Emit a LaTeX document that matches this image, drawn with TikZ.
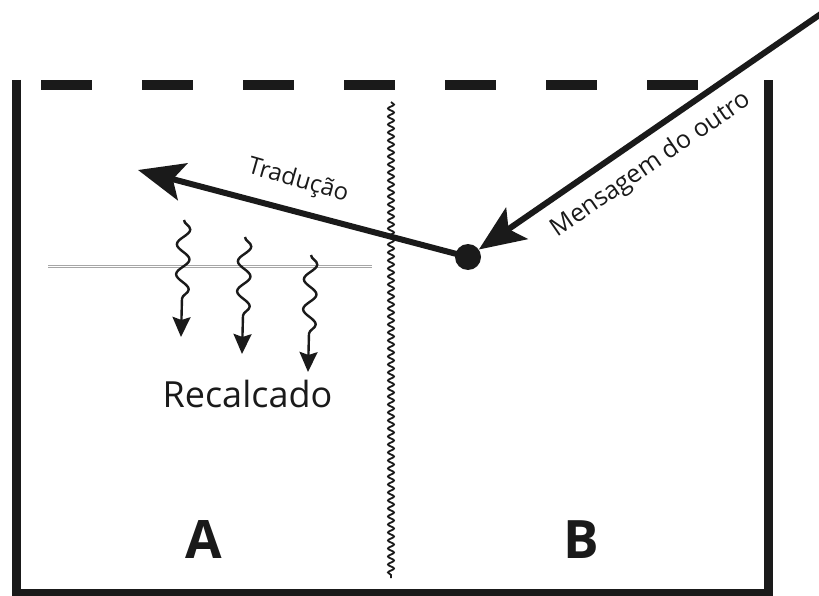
\documentclass[tikz,border=0pt]{standalone}
\usepackage{fontspec}
\setmainfont{Open Sans}
\usetikzlibrary{arrows.meta,decorations.pathmorphing}
\definecolor{ink}{HTML}{1A1A1A}
\begin{document}
\begin{tikzpicture}[x=1pt,y=-1pt,
  wall/.style={draw=ink,line width=9pt,line join=miter},
  lid/.style={draw=ink,line width=10pt,dash pattern=on 51pt off 50pt},
  bigarrow/.style={draw=ink,line width=6pt,-{Stealth[length=46pt,width=38pt,inset=10pt]}},
  wavyarrow/.style={draw=ink,line width=2.4pt,decorate,
    decoration={snake,amplitude=6.5pt,segment length=30pt,post length=34pt},
    -{Stealth[length=20pt,width=18pt,inset=3pt]}},
  barrier/.style={draw=ink,line width=1.8pt,decorate,
    decoration={snake,amplitude=3pt,segment length=8pt}},
  surface/.style={draw=gray!70,double=white,double distance=1.6pt,line width=0.9pt},
  dotnode/.style={circle,fill=ink,minimum size=26pt,inner sep=0pt},
  lbl/.style={text=ink,inner sep=0pt}]
\useasboundingbox (0,0) rectangle (819,596);
% box
\coordinate (tl) at (16.5,80);
\coordinate (bl) at (16.5,593.5);
\coordinate (br) at (768.5,593.5);
\coordinate (tr) at (768.5,80);
\draw[wall] (tl) -- (bl) -- (br) -- (tr);
% dashed lid
\coordinate (lidl) at (41,85);
\coordinate (lidr) at (698,85);
\draw[lid] (lidl) -- (lidr);
% barrier
\coordinate (bart) at (391,102);
\coordinate (barb) at (391,578);
\draw[barrier] (bart) -- (barb);
% surface double line
\coordinate (surfl) at (48,266.5);
\coordinate (surfr) at (372,266.5);
\draw[surface] (surfl) -- (surfr);
% dot and arrows
\node[dotnode] (dot) at (468,257) {};
\coordinate (msgstart) at (836,3.5);
\coordinate (tradtip) at (138,170);
\draw[bigarrow] (msgstart) -- (dot);
\draw[bigarrow] (dot.center) -- (tradtip);
\node[lbl,rotate=-16,font=\fontsize{24}{28}\selectfont] (trad) at (298,181) {Tradução};
\node[lbl,rotate=34.6,font=\fontsize{25}{30}\selectfont] (msg) at (651,165) {Mensagem do outro};
% wavy arrows
\coordinate (w1s) at (184,220);
\coordinate (w1e) at (181,337);
\coordinate (w2s) at (245,237);
\coordinate (w2e) at (242,354);
\coordinate (w3s) at (311,255);
\coordinate (w3e) at (308,372);
\draw[wavyarrow] (w1s) -- (w1e);
\draw[wavyarrow] (w2s) -- (w2e);
\draw[wavyarrow] (w3s) -- (w3e);
% labels
\node[lbl,anchor=base,font=\fontsize{36}{42}\selectfont] (rec) at (247.5,407) {Recalcado};
\node[lbl,anchor=base,font=\fontsize{53}{60}\selectfont\bfseries] (A) at (203.5,558) {A};
\node[lbl,anchor=base,font=\fontsize{53}{60}\selectfont\bfseries] (B) at (581.5,558) {B};
\end{tikzpicture}
\end{document}
